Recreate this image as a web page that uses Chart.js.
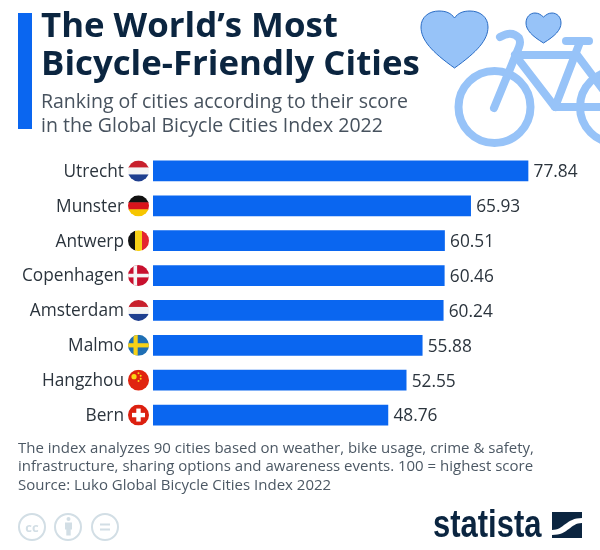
<!DOCTYPE html>
<html>
<head>
<meta charset="utf-8">
<script src="https://cdn.jsdelivr.net/npm/chart.js@4"></script>
<style>
  html, body { margin: 0; padding: 0; background: #fff; }
  #wrap { position: relative; width: 600px; height: 550px; overflow: hidden; font-family: "Open Sans", sans-serif; }
  #wrap canvas { position: absolute; left: 0; top: 0; }
  .txt { position: absolute; white-space: nowrap; }
  .title { left: 41px; font-size: 34.8px; font-weight: 700; color: #0b2540; line-height: 38px; }
  .sub { left: 41px; font-size: 19.5px; color: #47525e; line-height: 24px; }
  .note { left: 18px; font-size: 15px; color: #4c5864; line-height: 18px; }
  #brand { left: 433px; top: 501px; font-family: "Liberation Sans", sans-serif; font-weight: 700; font-size: 38px; line-height: 46px; color: #0b2540; transform: scaleX(0.815); transform-origin: left top; }
  #bar { position: absolute; left: 18px; top: 13px; width: 14px; height: 116px; background: #0a66f0; }
  svg { position: absolute; left: 0; top: 0; }
</style>
</head>
<body>
<div id="wrap">
  <canvas id="chart" width="600" height="550"></canvas>
  <svg width="600" height="550" viewBox="0 0 600 550">
    <!-- bike -->
    <g fill="none" stroke="#97c3f8" stroke-width="8" stroke-linecap="round" stroke-linejoin="round">
      <circle cx="494.5" cy="107" r="36"/>
      <circle cx="616" cy="107" r="36"/>
      <path d="M500 37 Q512 30 519 38 Q521 42 519 47 L494 108"/>
      <path d="M515 55 L577 55 L616 107"/>
      <path d="M515 55 L555 107 L616 107"/>
      <path d="M580 42 L555 107"/>
      <path d="M566 41 L589 41"/>
    </g>
    <!-- hearts -->
    <path d="M454.5 68 C432 52 421 40 421 27 C421 17 429 11 439 11 C446 11 451 13 454.5 18 C458 13 463 11 470 11 C480 11 488 17 488 27 C488 40 477 52 454.5 68 Z" fill="#97c3f8" stroke="#2a6cc4" stroke-width="1"/>
    <path d="M543.5 43 C532 36 526 30 526 23 C526 17 530 13 535 13 C539 13 541 15 543.5 17 C546 15 548 13 552 13 C557 13 561 17 561 23 C561 30 555 36 543.5 43 Z" fill="#97c3f8" stroke="#2a6cc4" stroke-width="1"/>
    <!-- licence badges -->
    <g fill="none" stroke="#d2dee5" stroke-width="2">
      <circle cx="32" cy="527" r="13"/>
      <circle cx="68" cy="527" r="13"/>
      <circle cx="105" cy="527" r="13"/>
    </g>
    <g fill="#d2dee5">
      <circle cx="68.5" cy="519" r="2"/>
      <rect x="65" y="522.5" width="7" height="7"/>
      <rect x="66.3" y="529" width="4.4" height="6.5"/>
      <rect x="100" y="523.5" width="10" height="2"/>
      <rect x="100" y="528.5" width="10" height="2"/>
    </g>
    <text x="32" y="531.5" text-anchor="middle" font-family="Open Sans" font-weight="700" font-size="13" fill="#d2dee5">cc</text>
    <!-- statista mark -->
    <rect x="552" y="512" width="30" height="26" fill="#0b2540"/>
    <path d="M552 530 C564 530 566 518 582 518 L582 523 C570 523 569 535 552 535 Z" fill="#fff"/>
  </svg>
  <div id="bar"></div>
  <div class="txt title" style="top:5px">The World’s Most</div>
  <div class="txt title" style="top:43px">Bicycle-Friendly Cities</div>
  <div class="txt sub" style="top:89px">Ranking of cities according to their score</div>
  <div class="txt sub" style="top:113px">in the Global Bicycle Cities Index 2022</div>
  <div class="txt note" style="top:438px">The index analyzes 90 cities based on weather, bike usage, crime &amp; safety,</div>
  <div class="txt note" style="top:456px">infrastructure, sharing options and awareness events. 100 = highest score</div>
  <div class="txt note" style="top:475px">Source: Luko Global Bicycle Cities Index 2022</div>
  <div class="txt" id="brand">statista</div>
</div>

<script>
// data
const cities = ["Utrecht", "Munster", "Antwerp", "Copenhagen", "Amsterdam", "Malmo", "Hangzhou", "Bern"];
const scores = [77.84, 65.93, 60.51, 60.46, 60.24, 55.88, 52.55, 48.76];
const flagCodes = ["nl", "de", "be", "dk", "nl", "se", "cn", "ch"];

const FLAG_R = 10.5;
const FLAG_X = 138.5;

// one circular flag, painted inside a clip
function drawFlag(ctx, code, cx, cy) {
    const r = FLAG_R;
    const x = cx - r, y = cy - r, d = r * 2;
    ctx.save();
    ctx.beginPath();
    ctx.arc(cx, cy, r, 0, Math.PI * 2);
    ctx.clip();

    const hBands = cols => cols.forEach((c, i) => {
        ctx.fillStyle = c;
        ctx.fillRect(x, y + d * i / cols.length, d, d / cols.length + 0.5);
    });
    const vBands = cols => cols.forEach((c, i) => {
        ctx.fillStyle = c;
        ctx.fillRect(x + d * i / cols.length, y, d / cols.length + 0.5, d);
    });

    if (code === "nl") hBands(["#c8202c", "#f4f4f4", "#1f3f8f"]);
    if (code === "de") hBands(["#111111", "#d8141c", "#f7c600"]);
    if (code === "be") vBands(["#111111", "#f7d117", "#e4252f"]);
    if (code === "dk") {
        ctx.fillStyle = "#c8102e";
        ctx.fillRect(x, y, d, d);
        ctx.fillStyle = "#f4f4f4";
        ctx.fillRect(cx - 5, y, 3.6, d);
        ctx.fillRect(x, cy - 1.8, d, 3.6);
    }
    if (code === "se") {
        ctx.fillStyle = "#1f6fb4";
        ctx.fillRect(x, y, d, d);
        ctx.fillStyle = "#f7d117";
        ctx.fillRect(cx - 5, y, 4.2, d);
        ctx.fillRect(x, cy - 2.1, d, 4.2);
    }
    if (code === "cn") {
        ctx.fillStyle = "#e0240f";
        ctx.fillRect(x, y, d, d);
        ctx.fillStyle = "#f9d616";
        [[-4.5, -3.5, 2.6], [0, -7, 1], [2.2, -4.5, 1], [2.2, -1.5, 1], [0, 0.8, 1]].forEach(s => {
            ctx.beginPath();
            ctx.arc(cx + s[0], cy + s[1], s[2], 0, Math.PI * 2);
            ctx.fill();
        });
    }
    if (code === "ch") {
        ctx.fillStyle = "#dc2010";
        ctx.fillRect(x, y, d, d);
        ctx.fillStyle = "#ffffff";
        ctx.fillRect(cx - 6.5, cy - 2.2, 13, 4.4);
        ctx.fillRect(cx - 2.2, cy - 6.5, 4.4, 13);
    }
    ctx.restore();
}

// flags next to the city names, scores at the bar ends
const barExtras = {
    id: "barExtras",
    afterDatasetsDraw(chart) {
        const ctx = chart.ctx;
        const xScale = chart.scales.x;
        const yScale = chart.scales.y;
        scores.forEach((v, i) => {
            const py = yScale.getPixelForValue(i);
            drawFlag(ctx, flagCodes[i], FLAG_X, py);
            ctx.fillStyle = "#2b343d";
            ctx.font = '17.3px "Open Sans"';
            ctx.textAlign = "left";
            ctx.textBaseline = "middle";
            ctx.fillText(v.toFixed(2), xScale.getPixelForValue(v) + 5.5, py + 1.5);
        });
    }
};

new Chart(document.getElementById("chart"), {
    type: "bar",
    data: {
        labels: cities,
        datasets: [{
            data: scores,
            backgroundColor: "#0a66f0",
            barThickness: 20,
            borderWidth: 0
        }]
    },
    options: {
        indexAxis: "y",
        responsive: false,
        animation: false,
        layout: { padding: { top: 153.5, bottom: 117.5, left: 0, right: 13.4 } },
        plugins: { legend: { display: false }, tooltip: { enabled: false } },
        scales: {
            x: { display: false, min: 0, max: 90 },
            y: {
                afterFit(axis) { axis.width = 153; },
                grid: { display: false, drawTicks: false },
                border: { display: false },
                ticks: {
                    padding: 29,
                    labelOffset: 1,
                    color: "#2b343d",
                    font: { family: "Open Sans", size: 17.3 }
                }
            }
        }
    },
    plugins: [barExtras]
});
</script>
</body>
</html>
